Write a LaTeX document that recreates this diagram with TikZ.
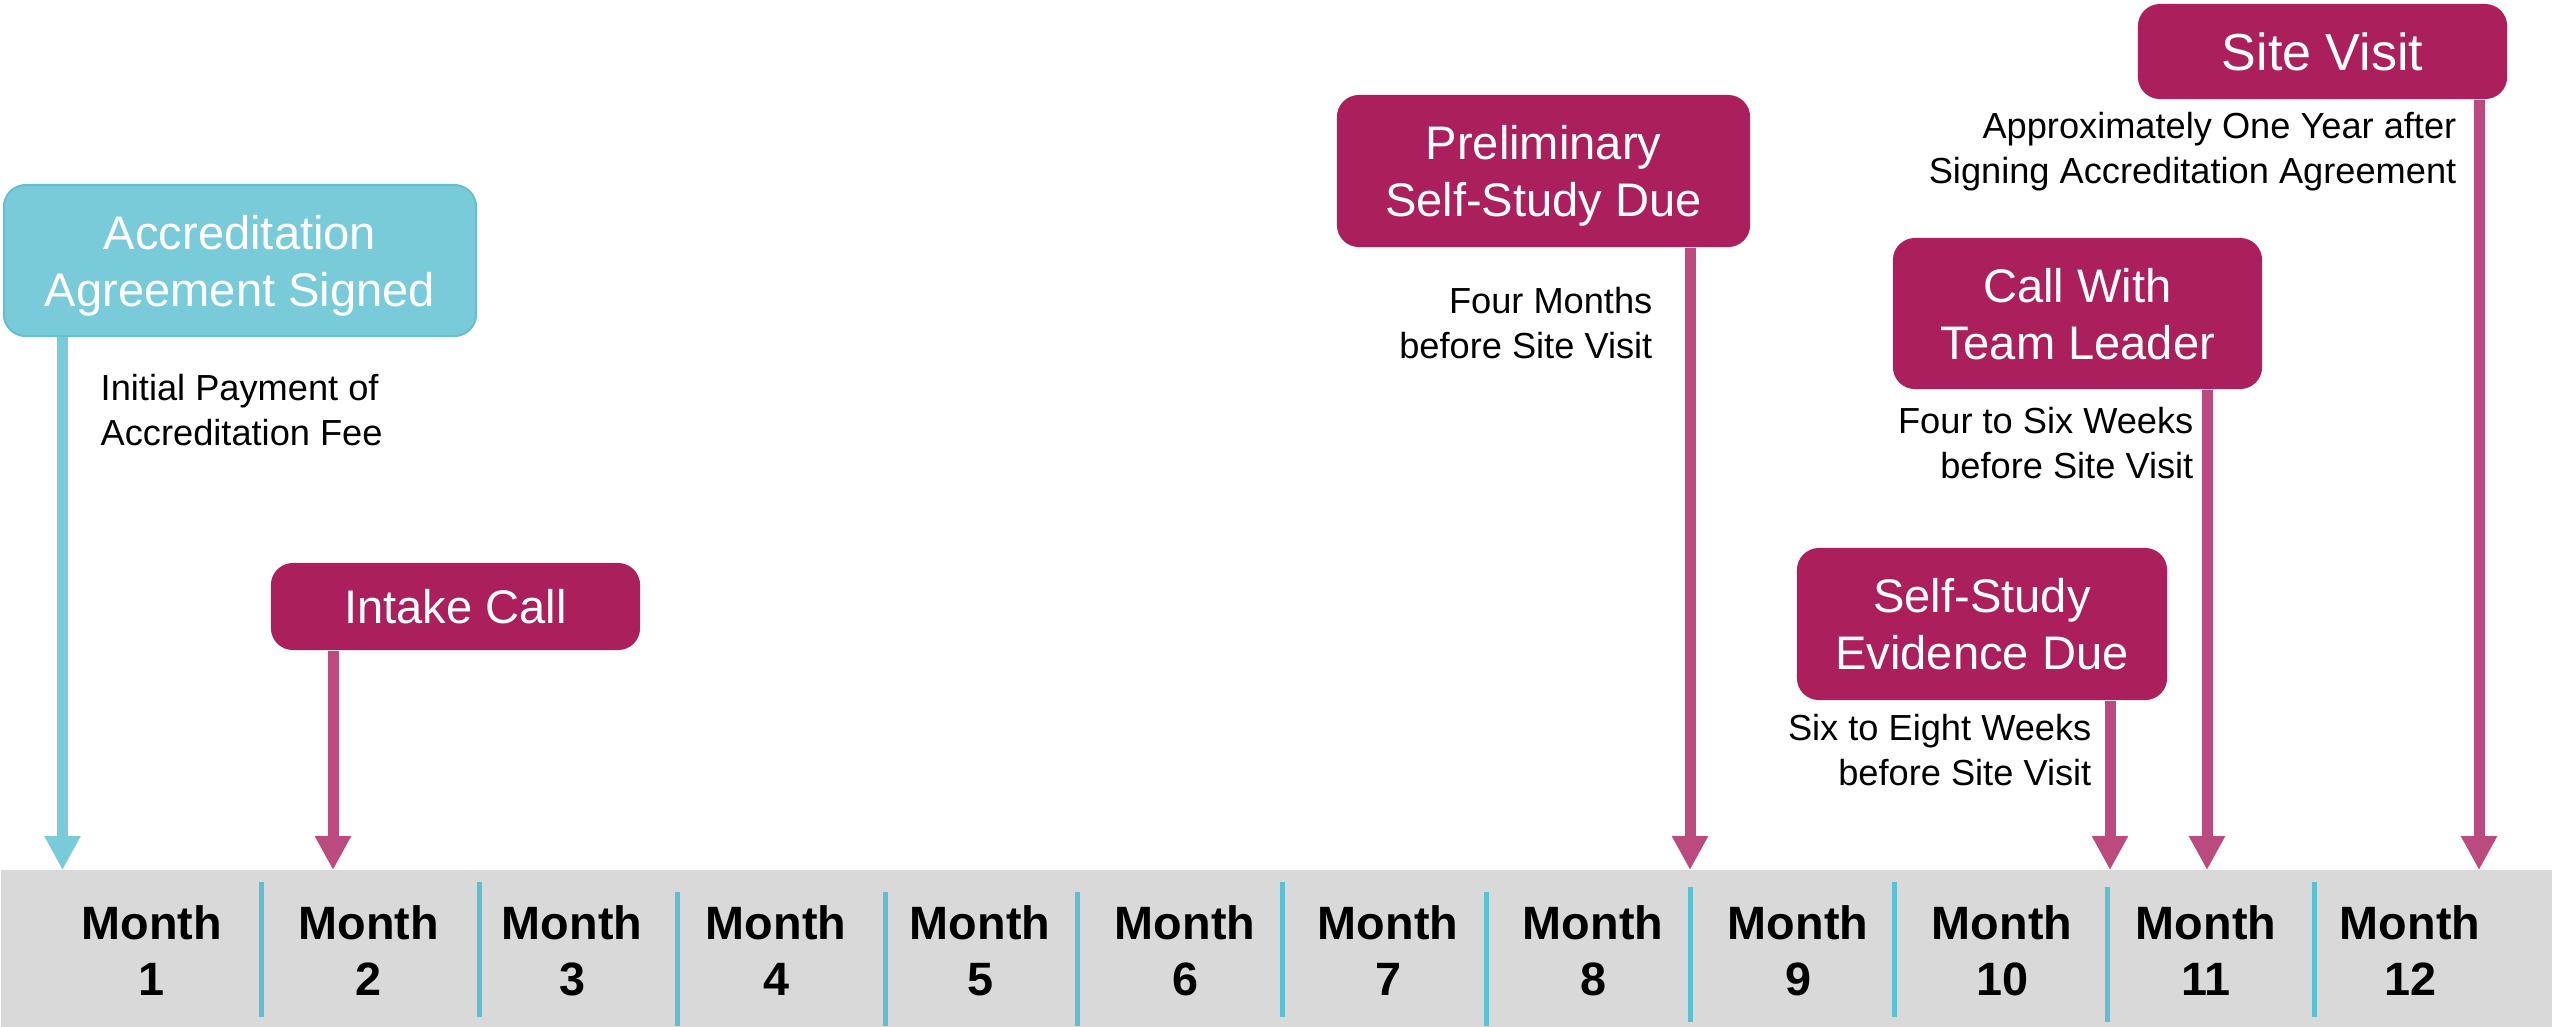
\documentclass[tikz,border=0pt]{standalone}
\usepackage{fontspec}
\setmainfont{Liberation Sans}
\usetikzlibrary{arrows.meta}
\definecolor{tealbox}{RGB}{122,203,217}
\definecolor{tealedge}{RGB}{100,192,208}
\definecolor{magbox}{RGB}{171,31,92}
\definecolor{magarrow}{RGB}{187,74,126}
\definecolor{sepcol}{RGB}{91,192,210}
\definecolor{bandgray}{RGB}{217,217,217}
\begin{document}
\begin{tikzpicture}[x=0.01cm,y=-0.01cm,
  evbox/.style={rounded corners=0.22cm, inner sep=0pt, text=white, align=center, text depth=0pt,
    font=\fontsize{13.4}{16.2}\selectfont},
  magentabox/.style={evbox, fill=magbox},
  tealevbox/.style={evbox, fill=tealbox, draw=tealedge, line width=0.6pt},
  magarr/.style={draw=magarrow, line width=0.11cm, -{Triangle[width=0.34cm,length=0.34cm]}},
  tealarr/.style={draw=tealbox, line width=0.11cm, -{Triangle[width=0.34cm,length=0.34cm]}},
  note/.style={inner sep=0pt, font=\fontsize{10.3}{12.8}\selectfont},
  notel/.style={note, align=left, anchor=base west},
  noter/.style={note, align=right, anchor=base east},
  monthlab/.style={inner sep=0pt, align=center, anchor=base, font=\fontsize{13.3}{15.8}\selectfont\bfseries},
  sepline/.style={draw=sepcol, line width=0.05cm}
]
\useasboundingbox (0,0) rectangle (2552,1026);
\fill[white] (0,0) rectangle (2552,1026);

% timeline band
\node[fill=bandgray, inner sep=0pt, minimum width=25.52cm, minimum height=1.57cm, anchor=north west] (band) at (0,869) {};

% separators
\foreach \x/\ya/\yb [count=\i] in {261/882/1017, 479/882/1017, 677/892/1026, 885/892/1026, 1077/892/1026, 1282/882/1017, 1486/892/1026, 1690/887/1022, 1894/882/1017, 2107/887/1022, 2314/882/1017}{
  \coordinate (sa\i) at (\x,\ya);
  \coordinate (sb\i) at (\x,\yb);
  \draw[sepline] (sa\i) -- (sb\i);
}

% month labels (anchor = baseline of the last line)
\foreach \x [count=\i] in {152, 369, 572, 776, 980, 1185, 1388, 1593, 1798, 2002, 2206, 2410}{
  \node[monthlab] (m\i) at (\x,995) {Month\\\i};
}

% event boxes
\node[tealevbox, minimum width=4.72cm, minimum height=1.51cm] (acc) at (240,260.5) {Accreditation\\Agreement Signed};
\node[magentabox, minimum width=3.69cm, minimum height=0.87cm] (intake) at (455.5,606.5) {Intake Call};
\node[magentabox, minimum width=4.13cm, minimum height=1.52cm] (prelim) at (1543.5,171) {Preliminary\\Self-Study Due};
\node[magentabox, minimum width=3.70cm, minimum height=1.52cm] (evid) at (1982,624) {Self-Study\\Evidence Due};
\node[magentabox, minimum width=3.69cm, minimum height=1.51cm] (team) at (2077.5,313.5) {Call With\\Team Leader};
\node[magentabox, minimum width=3.69cm, minimum height=0.95cm, font=\fontsize{14.8}{17}\selectfont] (site) at (2322.5,51.5) {Site Visit};

% notes (anchor = baseline of the last line)
\node[notel] (accnote) at (100,445) {Initial Payment of\\Accreditation Fee};
\node[noter] (prelimnote) at (1653,358) {Four Months\\before Site Visit};
\node[noter] (evidnote) at (2092,785) {Six to Eight Weeks\\before Site Visit};
\node[noter] (teamnote) at (2194,478) {Four to Six Weeks\\before Site Visit};
\node[noter] (sitenote) at (2457,183) {Approximately One Year after\\Signing Accreditation Agreement};

% arrow tips on the band
\coordinate (tacc) at (62.5,870);
\coordinate (tintake) at (333,870);
\coordinate (tprelim) at (1690,870);
\coordinate (tevid) at (2110,870);
\coordinate (tteam) at (2207,870);
\coordinate (tsite) at (2479,870);

\draw[tealarr] (acc.south -| tacc) -- (tacc);
\draw[magarr] (intake.south -| tintake) -- (tintake);
\draw[magarr] (prelim.south -| tprelim) -- (tprelim);
\draw[magarr] (evid.south -| tevid) -- (tevid);
\draw[magarr] (team.south -| tteam) -- (tteam);
\draw[magarr] (site.south -| tsite) -- (tsite);
\end{tikzpicture}
\end{document}
